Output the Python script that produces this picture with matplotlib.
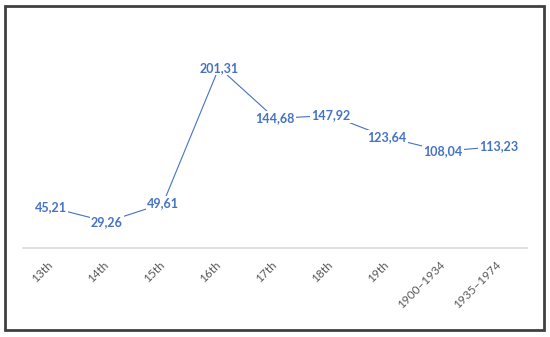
import matplotlib.pyplot as plt
from matplotlib.patches import Rectangle

periods = ["13th", "14th", "15th", "16th", "17th", "18th", "19th",
           "1900\u20131934", "1935\u20131974"]
values = [45.21, 29.26, 49.61, 201.31, 144.68, 147.92, 123.64, 108.04, 113.23]

blue = "#4472C4"

fig = plt.figure(figsize=(5.5, 3.37), dpi=100)
fig.patches.append(Rectangle((5 / 550, 1 - 330 / 337), 539 / 550, 324 / 337,
                             transform=fig.transFigure, fill=False,
                             edgecolor="#404040", linewidth=2))

ax = fig.add_axes([23 / 550, 1 - 248 / 337, 504 / 550, 224 / 337])
x = list(range(len(periods)))
ax.plot(x, values, color=blue, linewidth=0.8)

# data labels sit on top of the points, white box hides the line underneath
for xi, v in zip(x, values):
    ax.text(xi, v, f"{v:.2f}".replace(".", ","), ha="center", va="center",
            color=blue, fontsize=9, fontweight="bold", family="Lato",
            bbox=dict(boxstyle="square,pad=0.1", fc="white", ec="none"))

ax.set_xlim(-0.5, len(periods) - 0.5)
ax.set_ylim(0, 250)
for s in ["top", "right", "left"]:
    ax.spines[s].set_visible(False)
ax.spines["bottom"].set_color("#D9D9D9")
ax.spines["bottom"].set_linewidth(1.2)
ax.set_yticks([])
ax.set_xticks(x)
ax.set_xticklabels(periods, rotation=45, ha="right", va="center",
                   rotation_mode="anchor", color="#595959", fontsize=8.5,
                   family="Lato")
ax.tick_params(axis="x", length=0, pad=11)

fig.savefig("out.png", dpi=100)
